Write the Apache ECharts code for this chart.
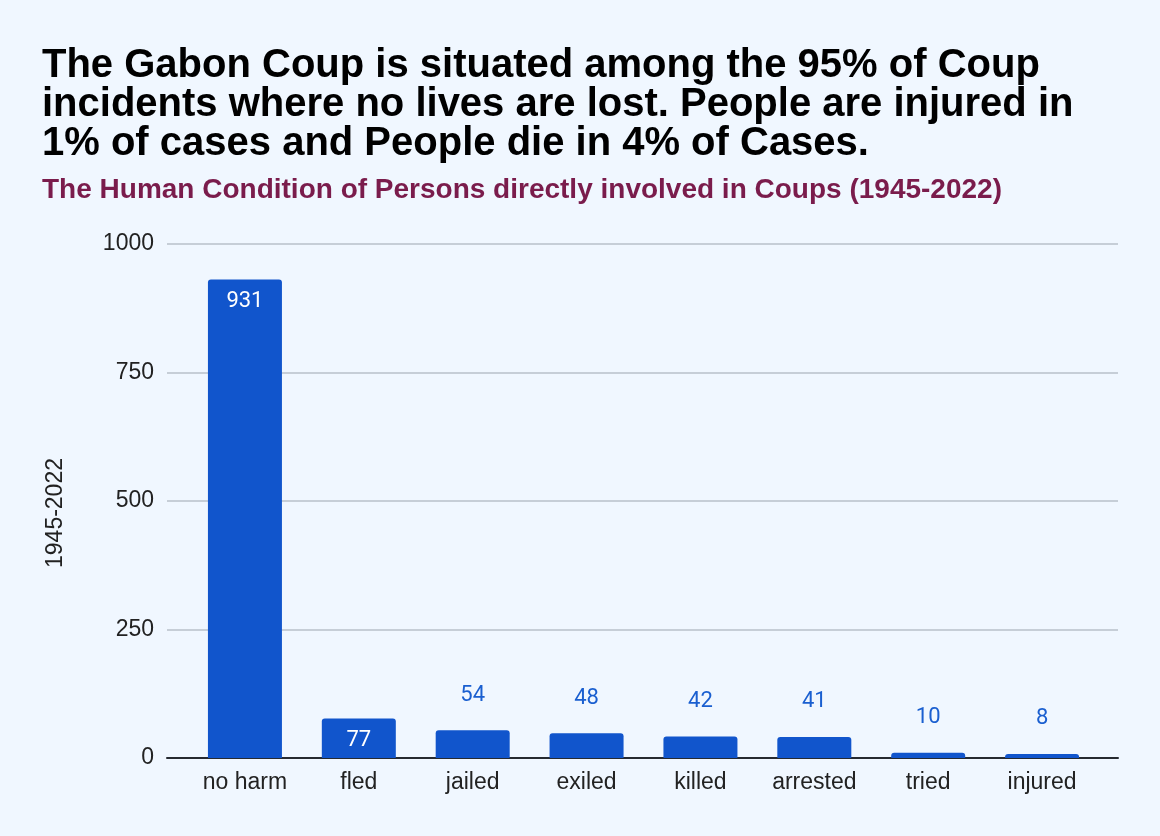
<!DOCTYPE html>
<html><head><meta charset="utf-8">
<script src="https://cdn.jsdelivr.net/npm/echarts@6/dist/echarts.min.js"></script>
<style>html,body{margin:0;padding:0;background:#f0f7ff;}#c{width:1160px;height:836px;}</style>
</head><body><div id="c"></div>
<script>
const titleText = "The Gabon Coup is situated among the 95% of Coup\nincidents where no lives are lost. People are injured in\n1% of cases and People die in 4% of Cases.";
const subtitleText = "The Human Condition of Persons directly involved in Coups (1945-2022)";
const categories = ["no harm","fled","jailed","exiled","killed","arrested","tried","injured"];
const values = [931,77,54,48,42,41,10,8];
const yAxisName = "1945-2022";
const yTicks = {min:0,max:1000,interval:250};

const FONT = 'Liberation Sans, Arial, sans-serif';
const chart = echarts.init(document.getElementById('c'));
chart.setOption({
  backgroundColor:'#f0f7ff',
  title:[{
    text:titleText, left:42, top:46, padding:0,
    textStyle:{fontFamily:FONT,fontWeight:'bold',fontSize:40,lineHeight:39,color:'#000'}
  },{
    text:subtitleText, left:42, top:176, padding:0,
    textStyle:{fontFamily:FONT,fontWeight:'bold',fontSize:28,color:'#7a1c4c'}
  }],
  graphic:[{type:'text',x:56,y:513,rotation:Math.PI/2,
    style:{text:yAxisName,fontFamily:FONT,fontSize:23,fill:'#222',align:'center',verticalAlign:'middle'}}],
  grid:[{left:167,right:42,top:244,bottom:78},{left:188,right:61,top:244,bottom:78}],
  xAxis:[{type:'category',gridIndex:0,data:categories,
    axisLine:{lineStyle:{color:'#262a30',width:2}},
    axisTick:{show:false},axisLabel:{show:false}
  },{type:'category',gridIndex:1,data:categories,
    axisLine:{show:false},axisTick:{show:false},
    axisLabel:{fontFamily:FONT,fontSize:23,color:'#222',margin:13}
  }],
  yAxis:[{type:'value',gridIndex:0,min:yTicks.min,max:yTicks.max,interval:yTicks.interval,
    axisLine:{show:false},axisTick:{show:false},
    axisLabel:{fontFamily:FONT,fontSize:23,color:'#222',margin:13,formatter:v=>String(v)},
    splitLine:{lineStyle:{color:'#b9c0ca',width:1.5}}
  },{type:'value',gridIndex:1,min:yTicks.min,max:yTicks.max,interval:yTicks.interval,
    show:false,splitLine:{show:false}
  }],
  series:[{type:'bar',xAxisIndex:1,yAxisIndex:1,barWidth:74,
    itemStyle:{color:'#1155cc',borderRadius:[3,3,0,0]},
    data:values.map(v=>({value:v,label: v>60 ?
      {show:true,position:'insideTop',distance:11,color:'#fff',fontFamily:'Roboto',fontSize:22} :
      {show:true,position:'top',distance:24,color:'#1a5fd0',fontFamily:'Roboto',fontSize:22}}))
  }]
});
</script></body></html>
